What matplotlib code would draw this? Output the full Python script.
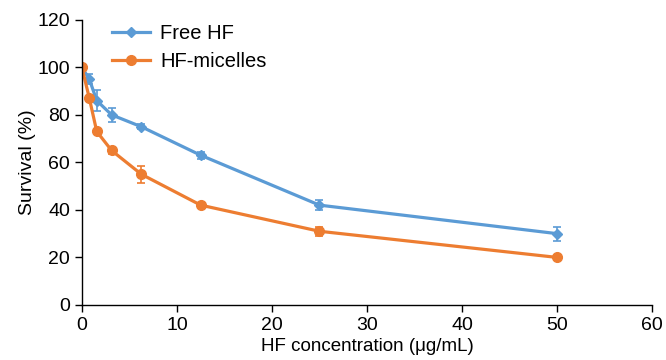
import numpy as np
import matplotlib
matplotlib.use('Agg')
import matplotlib.pyplot as plt
from matplotlib.lines import Line2D

plt.rcParams['font.family'] = ['Liberation Sans', 'DejaVu Sans']

# concentrations (ug/mL)
conc = [0, 0.78, 1.56, 3.125, 6.25, 12.5, 25, 50]
free_hf = [100, 95, 86, 80, 75, 63, 42, 30]
free_hf_err = [1.5, 2, 4.5, 3, 1, 1.5, 2, 3]
micelles = [100, 87, 73, 65, 55, 42, 31, 20]
micelles_err = [1, 1, 1, 1.5, 3.5, 1, 2, 1]

blue = '#5B9BD5'
orange = '#ED7D31'

fig = plt.figure(figsize=(6.66, 3.6), dpi=100)
ax = fig.add_axes([0.123, 0.153, 0.856, 0.792])

ax.errorbar(conc, free_hf, yerr=free_hf_err, color=blue, lw=2.3, marker='D',
            ms=5, capsize=3, elinewidth=1.2, capthick=1.2)
ax.errorbar(conc, micelles, yerr=micelles_err, color=orange, lw=2.3, marker='o',
            ms=7, capsize=3, elinewidth=1.2, capthick=1.2)

ax.set_xlim(0, 60)
ax.set_ylim(0, 120)
ax.set_xticks(np.arange(0, 61, 10))
ax.set_yticks(np.arange(0, 121, 20))
ax.tick_params(labelsize=14, direction='out', length=5, width=1, colors='black')
for s in ['top', 'right']:
    ax.spines[s].set_visible(False)
for s in ['left', 'bottom']:
    ax.spines[s].set_linewidth(1)
ax.set_xlabel('HF concentration (μg/mL)', fontsize=13.5, labelpad=3)
ax.set_ylabel('Survival (%)', fontsize=14, labelpad=1)

handles = [Line2D([], [], color=blue, lw=2.3, marker='D', ms=5),
           Line2D([], [], color=orange, lw=2.3, marker='o', ms=7)]
ax.legend(handles, ['Free HF', 'HF-micelles'], loc='upper left',
          bbox_to_anchor=(0.021, 1.05), frameon=False,
          fontsize=14.5, handlelength=1.9, labelspacing=0.45, handletextpad=0.5)

fig.savefig('out.png', dpi=100)
